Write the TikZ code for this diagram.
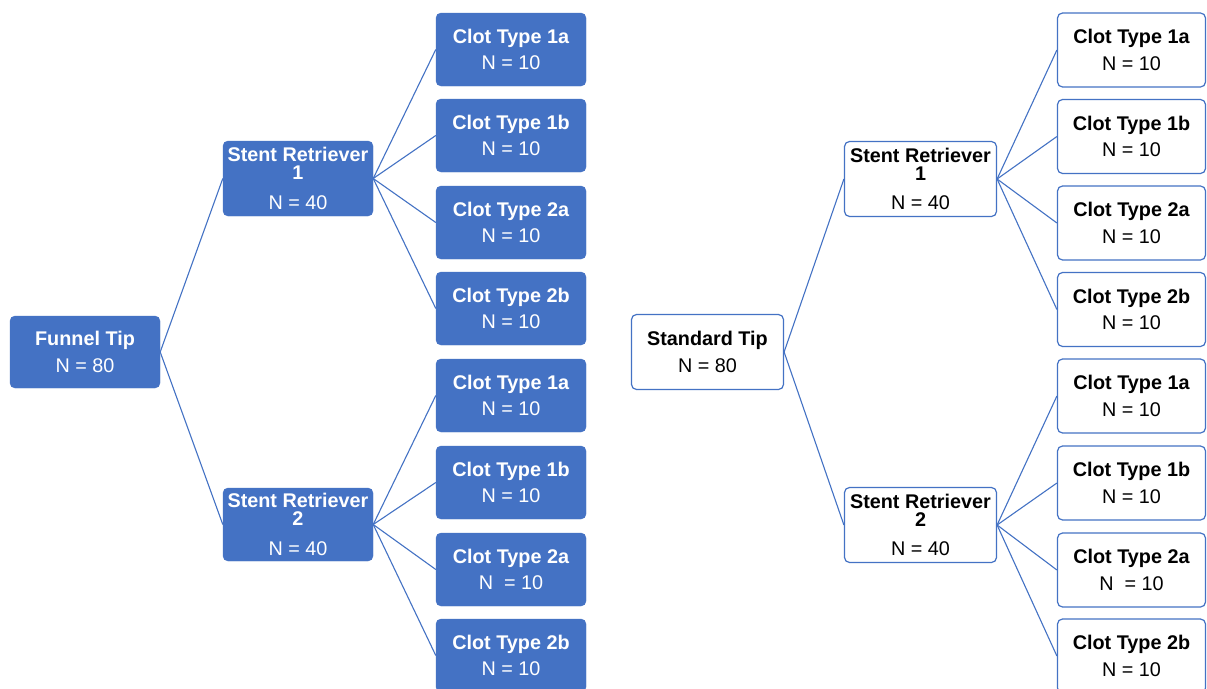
\documentclass[tikz,border=0pt]{standalone}
\usepackage{fontspec}
\setmainfont{Liberation Sans}
\definecolor{obl}{HTML}{4472C4}
\begin{document}
\begin{tikzpicture}[x=1pt,y=-1pt,
  box/.style={rounded corners=5pt, minimum height=73pt, align=center, inner sep=0pt, font=\fontsize{19.8}{26.5}\selectfont},
  fbox/.style={box, fill=obl, draw=obl, text=white, minimum width=150pt},
  wbox/.style={box, fill=white, draw=obl, line width=1.2pt, text=black, minimum width=152pt},
  link/.style={draw=obl, line width=1.1pt}]
\clip (0,0) rectangle (1207,688);
\fill[white] (0,0) rectangle (1207,688);
% ---------- left tree ----------
\node[fbox, minimum height=72pt] (funnel) at (85,352) {\textbf{Funnel Tip}\\N = 80};
\node[fbox, minimum height=75pt] (lsra) at (298,178.5) {\textbf{Stent Retriever}\\[-8.5pt]\textbf{1}\\[3pt]N = 40};
\node[fbox, minimum height=73pt] (lsrb) at (298,524.5) {\textbf{Stent Retriever}\\[-8.5pt]\textbf{2}\\[3pt]N = 40};
\node[fbox] (la1) at (511,49.5) {\textbf{Clot Type 1a}\\N = 10};
\node[fbox] (la2) at (511,135.5) {\textbf{Clot Type 1b}\\N = 10};
\node[fbox] (la3) at (511,222.5) {\textbf{Clot Type 2a}\\N = 10};
\node[fbox] (la4) at (511,308.5) {\textbf{Clot Type 2b}\\N = 10};
\node[fbox] (lb1) at (511,395.5) {\textbf{Clot Type 1a}\\N = 10};
\node[fbox] (lb2) at (511,482.5) {\textbf{Clot Type 1b}\\N = 10};
\node[fbox] (lb3) at (511,569.5) {\textbf{Clot Type 2a}\\N\ \ = 10};
\node[fbox] (lb4) at (511,655.5) {\textbf{Clot Type 2b}\\N = 10};
\draw[link] (funnel.east) -- (lsra.west);
\draw[link] (funnel.east) -- (lsrb.west);
\foreach \c in {la1,la2,la3,la4} \draw[link] (lsra.east) -- (\c.west);
\foreach \c in {lb1,lb2,lb3,lb4} \draw[link] (lsrb.east) -- (\c.west);
% ---------- right tree ----------
\node[wbox, minimum height=75pt] (std) at (707.5,352) {\textbf{Standard Tip}\\N = 80};
\node[wbox, minimum height=75pt] (rsra) at (920.5,179) {\textbf{Stent Retriever}\\[-8.5pt]\textbf{1}\\[3pt]N = 40};
\node[wbox, minimum height=75pt] (rsrb) at (920.5,525) {\textbf{Stent Retriever}\\[-8.5pt]\textbf{2}\\[3pt]N = 40};
\tikzset{rleaf/.style={wbox, minimum width=148pt, minimum height=74pt}}
\node[rleaf] (ra1) at (1131.5,50) {\textbf{Clot Type 1a}\\N = 10};
\node[rleaf] (ra2) at (1131.5,136.5) {\textbf{Clot Type 1b}\\N = 10};
\node[rleaf] (ra3) at (1131.5,223) {\textbf{Clot Type 2a}\\N = 10};
\node[rleaf] (ra4) at (1131.5,309.5) {\textbf{Clot Type 2b}\\N = 10};
\node[rleaf] (rb1) at (1131.5,396) {\textbf{Clot Type 1a}\\N = 10};
\node[rleaf] (rb2) at (1131.5,483) {\textbf{Clot Type 1b}\\N = 10};
\node[rleaf] (rb3) at (1131.5,570) {\textbf{Clot Type 2a}\\N\ \ = 10};
\node[rleaf] (rb4) at (1131.5,656) {\textbf{Clot Type 2b}\\N = 10};
\draw[link] (std.east) -- (rsra.west);
\draw[link] (std.east) -- (rsrb.west);
\foreach \c in {ra1,ra2,ra3,ra4} \draw[link] (rsra.east) -- (\c.west);
\foreach \c in {rb1,rb2,rb3,rb4} \draw[link] (rsrb.east) -- (\c.west);
\end{tikzpicture}
\end{document}
